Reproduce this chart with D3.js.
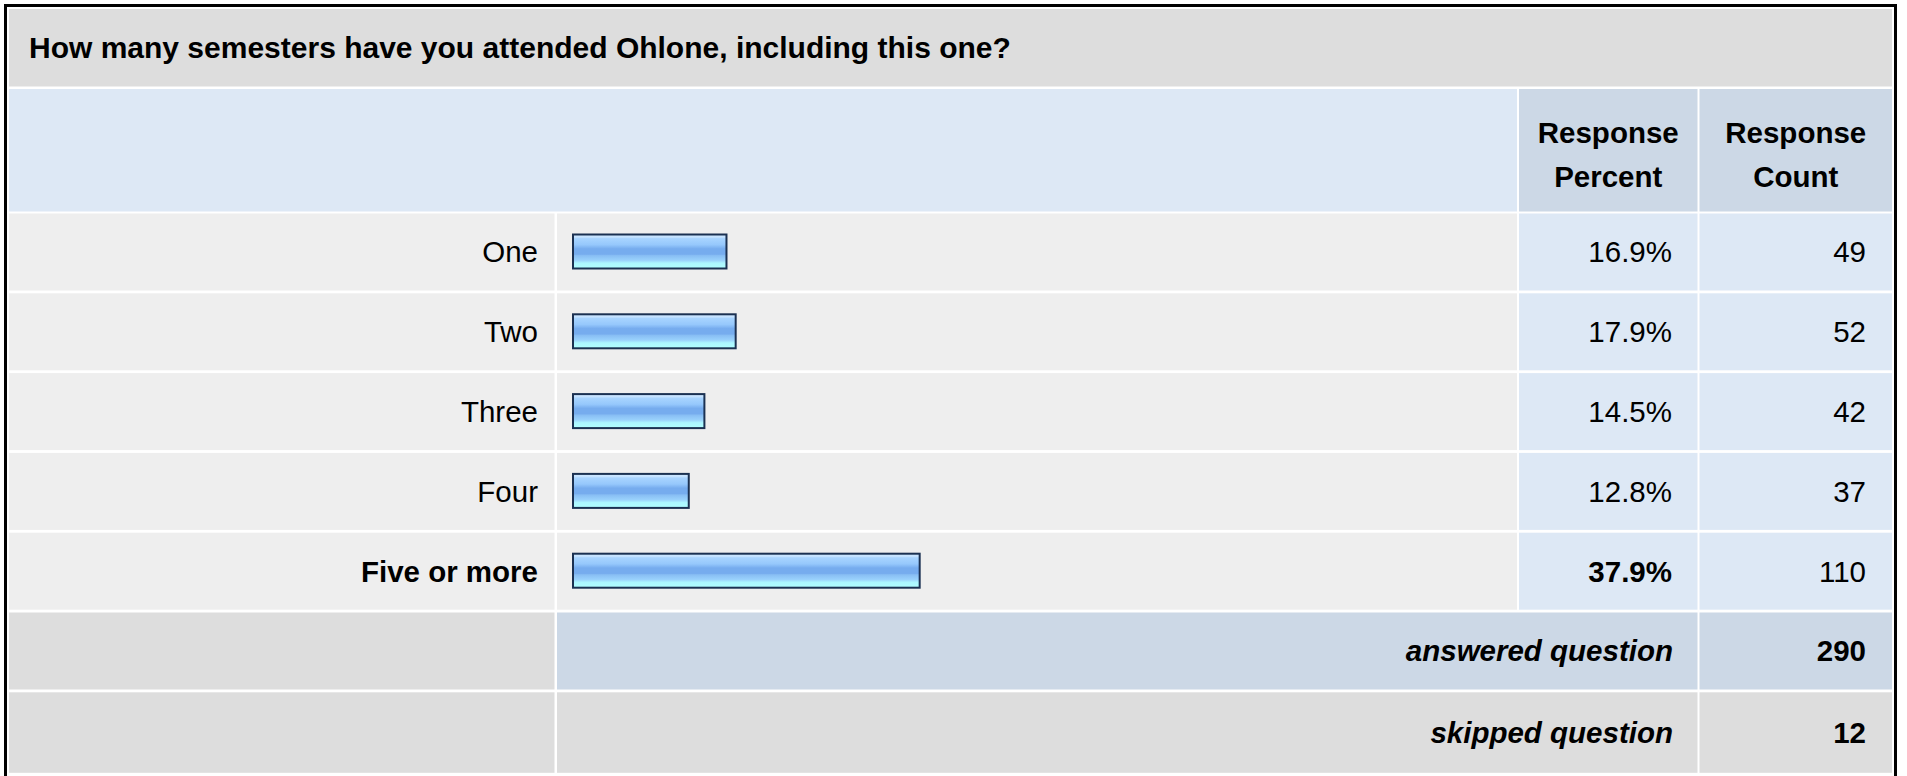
<!DOCTYPE html>
<html lang="en">
<head>
<meta charset="utf-8">
<title>Semesters attended</title>
<script type="text/javascript" src="https://cdn.jsdelivr.net/npm/d3@7"></script>
<style type="text/css">
    body { margin: 0; background: #ffffff; }
    text { font-family: "Liberation Sans", Arial, sans-serif; fill: #000000; }
</style>
</head>
<body>
<script type="text/javascript">
    // Data
    var question = "How many semesters have you attended Ohlone, including this one?";
    var categories = ["One", "Two", "Three", "Four", "Five or more"];
    var percents = [16.9, 17.9, 14.5, 12.8, 37.9];
    var counts = [49, 52, 42, 37, 110];
    var headerPercent = ["Response", "Percent"];
    var headerCount = ["Response", "Count"];
    var summaryLabels = ["answered question", "skipped question"];
    var summaryValues = [290, 12];

    // Width and height
    var w = 1907;
    var h = 776;
    var fs = 29.5;

    var svg = d3.select("body")
                .append("svg")
                .attr("width", w)
                .attr("height", h);

    // Column edges
    var colLabel = [9, 554.5];
    var colBar = [557, 1517];
    var colPct = [1519, 1697.5];
    var colCount = [1699.5, 1892];

    // Row positions: 5 answers then the two summary rows
    var rowKeys = categories.concat(summaryLabels);
    var rowY = function(i) { return 213.5 + i * 79.8; };
    var rowH = function(i) { return i === rowKeys.length - 1 ? 80.5 : 77; };

    // Bar length scale
    var x = d3.scaleLinear().domain([0, 100]).range([0, 920]);

    // Gradient for the bars
    var grad = svg.append("defs").append("linearGradient")
                  .attr("id", "barGrad")
                  .attr("x1", 0).attr("y1", 0).attr("x2", 0).attr("y2", 1);
    var stops = [[0, "#d0e8ff"], [0.08, "#c4e2ff"], [0.12, "#a8d4ff"], [0.3, "#96c8fc"],
                 [0.42, "#76acee"], [0.58, "#76acee"], [0.62, "#88bef4"], [0.76, "#9ad2fc"],
                 [0.84, "#acf6ff"], [1, "#b0ffff"]];
    grad.selectAll("stop")
        .data(stops)
        .enter()
        .append("stop")
        .attr("offset", function(d) { return d[0]; })
        .attr("stop-color", function(d) { return d[1]; });

    function cell(x0, x1, y0, hh, fill) {
        svg.append("rect")
           .attr("x", x0).attr("y", y0)
           .attr("width", x1 - x0).attr("height", hh)
           .attr("fill", fill);
    }

    // Outer frame
    svg.append("rect")
       .attr("x", 5.5).attr("y", 5.5)
       .attr("width", 1890).attr("height", 790)
       .attr("fill", "#ffffff")
       .attr("stroke", "#000000")
       .attr("stroke-width", 3);

    // Title row
    cell(colLabel[0], colCount[1], 9, 77.5, "#dddddd");
    svg.append("text")
       .attr("x", 29).attr("y", 47.75 + 0.35 * 30)
       .attr("font-size", 30).attr("font-weight", "bold")
       .text(question);

    // Header row
    cell(colLabel[0], colBar[1], 89, 122.5, "#dde8f5");
    cell(colPct[0], colPct[1], 89, 122.5, "#ccd8e6");
    cell(colCount[0], colCount[1], 89, 122.5, "#ccd8e6");

    [[colPct, headerPercent], [colCount, headerCount]].forEach(function(p) {
        svg.append("text")
           .attr("text-anchor", "middle")
           .attr("font-size", fs).attr("font-weight", "bold")
           .selectAll("tspan")
           .data(p[1])
           .enter()
           .append("tspan")
           .attr("x", (p[0][0] + p[0][1]) / 2)
           .attr("y", function(d, i) { return 143 + i * 44; })
           .text(function(d) { return d; });
    });

    // Answer rows
    var maxPct = d3.max(percents);
    var rows = svg.selectAll("g.row")
                  .data(categories)
                  .enter()
                  .append("g")
                  .attr("class", "row")
                  .attr("transform", function(d, i) { return "translate(0," + rowY(i) + ")"; });

    rows.each(function(d, i) {
        var g = d3.select(this);
        var hh = rowH(i);
        var mid = hh / 2;
        var bold = percents[i] === maxPct ? "bold" : "normal";

        [[colLabel, "#eeeeee"], [colBar, "#eeeeee"], [colPct, "#dde8f5"], [colCount, "#dde8f5"]]
            .forEach(function(c) {
                g.append("rect")
                 .attr("x", c[0][0]).attr("width", c[0][1] - c[0][0])
                 .attr("height", hh).attr("fill", c[1]);
            });

        g.append("text")
         .attr("x", 538).attr("y", mid + 0.35 * fs)
         .attr("text-anchor", "end")
         .attr("font-size", fs).attr("font-weight", bold)
         .text(d);

        g.append("rect")
         .attr("x", 573).attr("y", mid - 17.5)
         .attr("width", x(percents[i]) - 2)
         .attr("height", 34)
         .attr("fill", "url(#barGrad)")
         .attr("stroke", "#1b3152")
         .attr("stroke-width", 2);

        g.append("text")
         .attr("x", 1672).attr("y", mid + 0.35 * fs)
         .attr("text-anchor", "end")
         .attr("font-size", fs).attr("font-weight", bold)
         .text(percents[i].toFixed(1) + "%");

        g.append("text")
         .attr("x", 1866).attr("y", mid + 0.35 * fs)
         .attr("text-anchor", "end")
         .attr("font-size", fs)
         .text(counts[i]);
    });

    // Summary rows
    summaryLabels.forEach(function(label, j) {
        var i = categories.length + j;
        var y0 = rowY(i);
        var hh = rowH(i);
        var fill = j === 0 ? "#ccd8e6" : "#dddddd";
        cell(colLabel[0], colLabel[1], y0, hh, "#dddddd");
        cell(colBar[0], colPct[1], y0, hh, fill);
        cell(colCount[0], colCount[1], y0, hh, fill);

        svg.append("text")
           .attr("x", 1673).attr("y", y0 + hh / 2 + 0.35 * fs)
           .attr("text-anchor", "end")
           .attr("font-size", fs).attr("font-weight", "bold").attr("font-style", "italic")
           .text(label);

        svg.append("text")
           .attr("x", 1866).attr("y", y0 + hh / 2 + 0.35 * fs)
           .attr("text-anchor", "end")
           .attr("font-size", fs).attr("font-weight", "bold")
           .text(summaryValues[j]);
    });
</script>
</body>
</html>
